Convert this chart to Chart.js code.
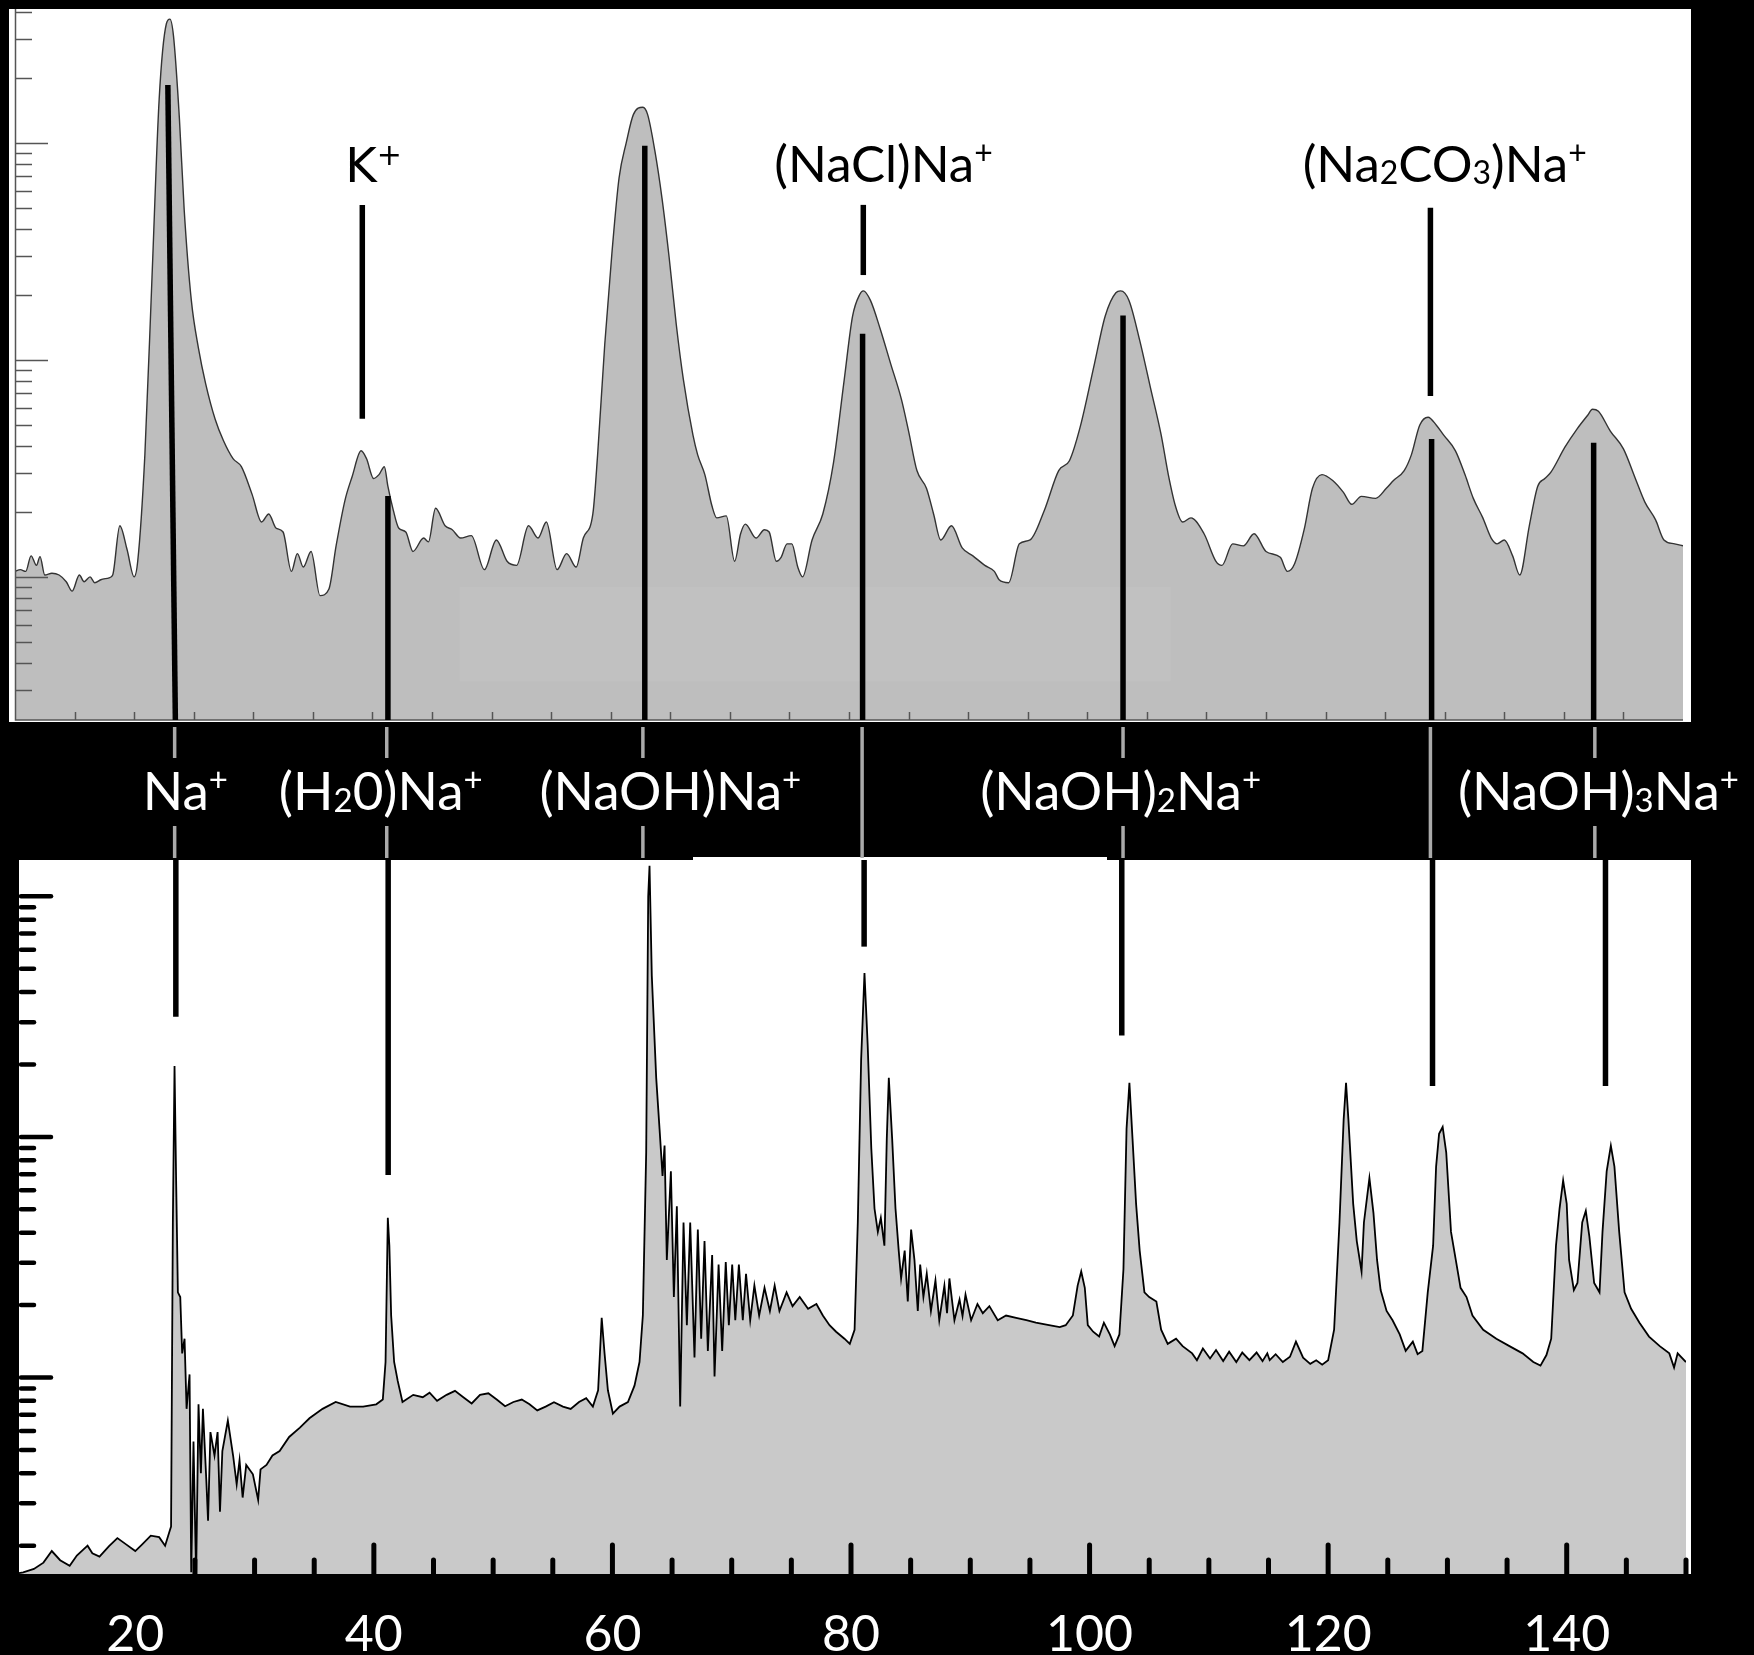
<!DOCTYPE html>
<html>
<head>
<meta charset="utf-8">
<script src="https://cdn.jsdelivr.net/npm/chart.js@4.4.0/dist/chart.umd.min.js"></script>
<style>
  html, body { margin: 0; padding: 0; background: #000; }
  #wrap { position: relative; width: 1754px; height: 1655px; background: #000; overflow: hidden; }
  canvas { position: absolute; left: 0; }
  #top { top: 0; width: 1754px; height: 860px; }
  #bot { top: 860px; width: 1754px; height: 795px; }
</style>
</head>
<body>
<div id="wrap">
  <canvas id="top" width="1754" height="860"></canvas>
  <canvas id="bot" width="1754" height="795"></canvas>
</div>
<script>
// upper spectrum (smoothed), m/z and intensity
const topMz = [
  10.0, 10.45, 10.9, 11.35, 11.8, 12.1, 12.5, 13.1, 13.7, 14.3,
  14.8, 15.4, 15.8, 16.3, 16.7, 17.2, 17.9, 18.2, 18.8, 19.4,
  20.0, 20.3, 20.9, 21.5, 22.1, 22.7, 23.0, 23.3, 23.8, 24.2,
  24.8, 25.4, 26.0, 26.8, 27.5, 28.3, 29.0, 29.9, 30.7, 31.3,
  31.9, 32.5, 33.2, 33.7, 34.2, 34.85, 35.6, 36.35, 36.95, 37.7,
  38.3, 39.05, 39.5, 40.1, 40.55, 41.0, 41.3, 41.75, 42.2, 42.8,
  43.4, 44.3, 44.7, 45.3, 46.1, 46.7, 47.4, 48.3, 49.4, 50.4,
  51.3, 52.1, 53.1, 53.9, 54.6, 55.5, 56.3, 57.1, 57.7, 58.5,
  58.9, 59.5, 60.1, 60.7, 61.3, 61.9, 62.7, 63.1, 63.7, 64.3,
  64.9, 65.5, 66.1, 66.9, 67.3, 67.9, 68.5, 68.9, 69.7, 70.4,
  70.9, 71.3, 72.2, 72.9, 73.3, 73.9, 74.3, 74.8, 75.2, 75.7,
  76.1, 76.9, 77.8, 78.7, 79.6, 80.3, 80.9, 81.2, 81.8, 82.6,
  83.5, 84.4, 85.0, 85.7, 86.5, 87.1, 87.7, 88.6, 89.5, 90.4,
  91.4, 92.2, 92.6, 93.4, 94.3, 95.2, 96.4, 97.6, 98.5, 99.4,
  100.6, 101.5, 102.4, 102.8, 103.5, 104.4, 105.3, 106.2, 106.8, 107.4,
  108.0, 108.7, 109.8, 110.8, 111.3, 112.2, 113.1, 114.0, 115.0, 116.2,
  116.8, 117.4, 118.2, 118.9, 119.7, 120.6, 121.5, 122.2, 123.0, 124.2,
  125.1, 125.7, 126.6, 127.2, 127.9, 128.6, 129.3, 129.9, 130.9, 131.7,
  132.4, 133.2, 133.9, 134.4, 135.0, 135.7, 136.3, 137.1, 137.8, 138.4,
  138.9, 140.1, 141.1, 142.0, 142.4, 142.9, 143.9, 145.0, 146.0, 146.8,
  147.7, 148.4, 149.3, 150.0
];
const topInt = [
  1.06, 1.08, 1.06, 1.25, 1.13, 1.24, 1.02, 1.04, 1.02, 0.95,
  0.86, 1.02, 0.95, 1.0, 0.94, 0.97, 0.99, 1.02, 1.72, 1.34,
  1.0, 1.18, 3.65, 24.1, 159, 353, 372, 312, 129, 49.2,
  18.8, 11.3, 7.78, 5.33, 4.24, 3.51, 3.22, 2.40, 1.79, 1.95,
  1.68, 1.61, 1.06, 1.28, 1.11, 1.31, 0.82, 0.88, 1.39, 2.26,
  2.90, 3.81, 3.51, 2.84, 2.96, 3.22, 2.61, 2.03, 1.68, 1.61,
  1.31, 1.51, 1.45, 2.07, 1.72, 1.65, 1.51, 1.55, 1.08, 1.48,
  1.18, 1.13, 1.72, 1.51, 1.79, 1.08, 1.28, 1.11, 1.51, 1.95,
  3.65, 11.8, 31.0, 68.9, 100, 135, 146, 135, 92.3, 55.8,
  29.8, 14.6, 8.11, 4.51, 3.65, 2.96, 2.12, 1.87, 1.91, 1.18,
  1.58, 1.75, 1.51, 1.65, 1.61, 1.18, 1.23, 1.42, 1.42, 1.11,
  1.0, 1.48, 1.95, 3.36, 8.11, 15.9, 20.0, 20.8, 18.8, 14.0,
  9.59, 6.58, 4.70, 3.09, 2.56, 1.95, 1.48, 1.72, 1.36, 1.25,
  1.13, 1.06, 0.97, 0.94, 1.42, 1.48, 2.03, 3.09, 3.43, 4.90,
  9.59, 15.9, 20.4, 20.8, 18.8, 12.3, 7.45, 4.51, 2.96, 2.12,
  1.79, 1.87, 1.58, 1.18, 1.13, 1.42, 1.39, 1.58, 1.31, 1.23,
  1.06, 1.15, 1.65, 2.56, 2.96, 2.78, 2.45, 2.16, 2.35, 2.30,
  2.56, 2.78, 3.09, 3.65, 5.00, 5.44, 5.00, 4.51, 3.81, 2.96,
  2.30, 1.87, 1.51, 1.42, 1.48, 1.25, 1.02, 1.72, 2.61, 2.84,
  3.03, 3.97, 4.80, 5.56, 5.92, 5.80, 4.70, 3.89, 2.84, 2.21,
  1.83, 1.48, 1.42, 1.39
];

// lower spectrum (high resolution)
const botMz = [
  10.0, 10.6, 11.5, 12.3, 13.0, 13.7, 14.5, 15.1, 16.0, 16.4,
  17.0, 17.8, 18.5, 19.2, 20.0, 20.6, 21.3, 22.0, 22.5, 22.9,
  23.0, 23.15, 23.29, 23.43, 23.57, 23.77, 23.93, 24.13, 24.3, 24.55,
  24.69, 24.88, 25.1, 25.3, 25.5, 25.67, 25.95, 26.1, 26.3, 26.64,
  26.9, 27.1, 27.3, 27.76, 28.2, 28.5, 28.74, 29.0, 29.3, 29.86,
  30.3, 30.5, 31.0, 31.5, 32.1, 32.9, 33.8, 34.6, 35.7, 36.8,
  38.0, 39.1, 40.2, 40.75, 40.98, 41.17, 41.3, 41.45, 41.7, 42.0,
  42.4, 43.3, 44.1, 44.67, 45.3, 46.1, 46.8, 47.5, 48.2, 48.9,
  49.6, 50.3, 51.0, 51.7, 52.4, 53.05, 53.7, 54.4, 55.1, 55.85,
  56.5, 57.2, 57.8, 58.36, 58.8, 59.1, 59.34, 59.62, 60.04, 60.6,
  61.3, 61.85, 62.27, 62.55, 62.83, 63.0, 63.11, 63.3, 63.67, 63.95,
  64.2, 64.37, 64.56, 64.9, 65.15, 65.4, 65.68, 65.96, 66.24, 66.52,
  66.88, 67.16, 67.44, 67.72, 68.0, 68.36, 68.56, 68.9, 69.2, 69.5,
  69.76, 70.04, 70.3, 70.6, 70.93, 71.2, 71.55, 71.9, 72.3, 72.75,
  73.2, 73.6, 74.0, 74.6, 75.1, 75.7, 76.4, 77.1, 77.64, 78.2,
  78.75, 79.45, 79.9, 80.3, 80.57, 80.85, 81.13, 81.4, 81.7, 81.97,
  82.25, 82.5, 82.8, 83.0, 83.17, 83.45, 83.73, 84.0, 84.2, 84.5,
  84.76, 85.04, 85.32, 85.6, 85.8, 86.07, 86.35, 86.7, 87.08, 87.4,
  87.83, 88.05, 88.25, 88.67, 89.1, 89.35, 89.6, 90.07, 90.6, 91.05,
  91.6, 92.3, 93.0, 93.84, 94.7, 95.5, 96.6, 97.5, 98.0, 98.6,
  99.0, 99.3, 99.6, 99.85, 100.3, 100.8, 101.2, 101.7, 102.1, 102.5,
  102.84, 103.1, 103.34, 103.6, 103.9, 104.2, 104.6, 105.0, 105.6, 106.0,
  106.55, 107.25, 107.8, 108.6, 109.0, 109.5, 110.1, 110.6, 111.2, 111.7,
  112.3, 112.8, 113.4, 114.0, 114.5, 114.9, 115.1, 115.6, 116.2, 116.8,
  117.3, 117.9, 118.5, 119.0, 119.5, 120.0, 120.5, 120.95, 121.3, 121.5,
  121.7, 122.1, 122.4, 122.8, 123.0, 123.46, 123.8, 124.1, 124.4, 124.9,
  125.4, 126.0, 126.5, 127.1, 127.5, 127.9, 128.35, 128.8, 129.05, 129.3,
  129.6, 129.9, 130.3, 130.7, 131.1, 131.6, 132.1, 133.0, 134.1, 135.2,
  136.3, 137.2, 137.8, 138.3, 138.7, 139.1, 139.4, 139.7, 140.0, 140.2,
  140.6, 140.9, 141.3, 141.6, 141.9, 142.3, 142.75, 143.0, 143.35, 143.7,
  144.0, 144.4, 144.85, 145.4, 146.1, 146.9, 147.8, 148.6, 149.0, 149.3,
  150.0
];
const botInt = [
  0.153, 0.155, 0.16, 0.170, 0.19, 0.174, 0.165, 0.182, 0.20, 0.186,
  0.18, 0.199, 0.215, 0.203, 0.19, 0.203, 0.22, 0.217, 0.20, 0.232,
  0.24, 4.41, 19.7, 6.30, 2.26, 2.16, 1.26, 1.45, 0.741, 1.03,
  0.155, 0.542, 0.149, 0.774, 0.40, 0.741, 0.379, 0.254, 0.593, 0.474,
  0.593, 0.277, 0.495, 0.662, 0.474, 0.36, 0.453, 0.317, 0.433, 0.396,
  0.31, 0.415, 0.433, 0.474, 0.495, 0.566, 0.619, 0.677, 0.741, 0.791,
  0.757, 0.757, 0.774, 0.810, 1.16, 4.61, 3.53, 1.81, 1.16, 0.968,
  0.791, 0.847, 0.828, 0.865, 0.80, 0.847, 0.88, 0.828, 0.78, 0.847,
  0.86, 0.810, 0.76, 0.791, 0.81, 0.774, 0.73, 0.757, 0.79, 0.757,
  0.74, 0.791, 0.82, 0.757, 0.885, 1.77, 1.26, 0.885, 0.708, 0.757,
  0.791, 0.925, 1.16, 1.81, 8.61, 100, 134, 46.9, 17.6, 10.8,
  6.89, 9.20, 3.08, 7.20, 2.16, 5.15, 0.757, 4.41, 1.65, 4.41,
  1.21, 4.12, 1.45, 3.69, 1.29, 3.23, 1.01, 2.95, 1.29, 3.02,
  1.65, 2.95, 1.73, 2.95, 1.73, 2.70, 1.73, 2.41, 1.81, 2.36,
  1.89, 2.41, 1.89, 2.26, 1.98, 2.16, 1.93, 2.02, 1.81, 1.65,
  1.55, 1.45, 1.38, 1.58, 4.41, 21.0, 48.0, 24.0, 9.0, 5.04,
  4.03, 4.61, 3.53, 9.84, 17.6, 9.84, 5.04, 3.37, 2.58, 3.37,
  2.07, 4.12, 3.08, 1.89, 2.95, 2.16, 2.70, 1.89, 2.53, 1.73,
  2.41, 1.85, 2.58, 1.73, 2.11, 1.8, 2.21, 1.73, 2.02, 1.85,
  1.98, 1.73, 1.81, 1.77, 1.73, 1.69, 1.65, 1.62, 1.65, 1.81,
  2.41, 2.76, 2.36, 1.65, 1.55, 1.48, 1.69, 1.51, 1.35, 1.51,
  2.82, 10.8, 16.8, 9.84, 5.27, 3.37, 2.26, 2.16, 2.07, 1.58,
  1.38, 1.45, 1.35, 1.26, 1.18, 1.32, 1.2, 1.3, 1.17, 1.28,
  1.16, 1.27, 1.18, 1.27, 1.17, 1.26, 1.18, 1.25, 1.16, 1.22,
  1.41, 1.21, 1.14, 1.18, 1.13, 1.18, 1.58, 4.41, 11.8, 16.8,
  11.8, 5.27, 3.69, 2.76, 4.41, 6.74, 4.82, 3.08, 2.31, 1.89,
  1.73, 1.51, 1.29, 1.41, 1.25, 1.29, 2.26, 3.53, 7.53, 10.3,
  11.0, 8.61, 4.03, 3.08, 2.36, 2.16, 1.81, 1.58, 1.45, 1.35,
  1.26, 1.16, 1.12, 1.24, 1.45, 3.53, 5.04, 6.59, 5.27, 3.08,
  2.31, 2.47, 4.41, 4.93, 3.85, 2.47, 2.26, 4.03, 7.20, 9.20,
  7.53, 4.03, 2.26, 1.93, 1.69, 1.48, 1.35, 1.26, 1.10, 1.26,
  1.16
];

const xTickLabels = ['20', '40', '60', '80', '100', '120', '140'];

// peak annotations, by m/z
const topLabels = [
  { text: 'K^+', mz: 40.1, font: 'DejaVu Sans', size: 48 },
  { text: '(NaCl)Na^+', mz: 82.9 },
  { text: '(Na_2CO_3)Na^+', mz: 130.0 }
];
const topMarks = [
  { mz: 39.15, hi: 51.8, lo: 5.35 },
  { mz: 81.2, hi: 51.8, lo: 24.6 },
  { mz: 128.8, hi: 50.2, lo: 6.82 }
];
const topStems = [
  { mz: 22.83, base: 23.46, top: 185 },
  { mz: 41.3, top: 2.36 },
  { mz: 62.86, top: 96.9 },
  { mz: 81.14, top: 13.2 },
  { mz: 103.0, top: 16.0 },
  { mz: 128.9, top: 4.32 },
  { mz: 142.5, top: 4.15 }
];
const midLabels = [
  { text: 'Na^+', mz: 24.3 },
  { text: '(H_20)Na^+', mz: 40.7 },
  { text: '(NaOH)Na^+', mz: 65.0 },
  { text: '(NaOH)_2Na^+', mz: 102.8 },
  { text: '(NaOH)_3Na^+', mz: 142.9 }
];
const midLinks = [
  { mz: 23.4, split: true }, { mz: 41.2, split: true }, { mz: 62.7, split: true },
  { mz: 81.1, split: false }, { mz: 103.0, split: true }, { mz: 128.8, split: false },
  { mz: 142.6, split: true }
];
const botStems = [
  { mz: 23.4, to: 31.6 }, { mz: 41.2, to: 6.95 }, { mz: 81.1, to: 61.8 },
  { mz: 102.7, to: 26.4 }, { mz: 128.75, to: 16.3 }, { mz: 143.25, to: 16.3 }
];

const pts = (xs, ys) => xs.map((x, i) => ({ x: x, y: ys[i] }));

function logTicks(scale) {
  const out = [];
  for (let k = -2; k <= 3; k++) {
    for (let j = 1; j <= 9; j++) {
      const v = j * Math.pow(10, k);
      if (v >= scale.min && v <= scale.max) out.push({ v: v, major: j === 1 });
    }
  }
  return out;
}

// text with _x subscripts and ^x superscripts
function drawRich(c, str, cx, base, size, family, color) {
  const parts = [];
  let i = 0;
  while (i < str.length) {
    const ch = str[i];
    if (ch === '_' || ch === '^') { parts.push({ t: str[i + 1], k: ch }); i += 2; }
    else {
      let j = i;
      while (j < str.length && str[j] !== '_' && str[j] !== '^') j++;
      parts.push({ t: str.slice(i, j), k: '' });
      i = j;
    }
  }
  const fontFor = k => (k === '' ? size : Math.round(size * 0.62)) + 'px "' + family + '"';
  c.save();
  c.fillStyle = color;
  c.textAlign = 'left';
  c.textBaseline = 'alphabetic';
  let w = 0;
  parts.forEach(p => { c.font = fontFor(p.k); p.w = c.measureText(p.t).width; w += p.w; });
  let x = cx - w / 2;
  parts.forEach(p => {
    c.font = fontFor(p.k);
    const dy = p.k === '_' ? size * 0.04 : (p.k === '^' ? -size * 0.36 : 0);
    c.fillText(p.t, x, base + dy);
    x += p.w;
  });
  c.restore();
}

function seg(c, x1, y1, x2, y2) {
  c.beginPath(); c.moveTo(x1, y1); c.lineTo(x2, y2); c.stroke();
}

const topDeco = {
  id: 'topDeco',
  beforeDraw(chart) {
    const c = chart.ctx, a = chart.chartArea;
    c.save();
    c.fillStyle = '#000';
    c.fillRect(0, 0, chart.width, chart.height);
    c.fillStyle = '#fff';
    c.fillRect(a.left - 6, a.top, a.right - a.left + 14, a.bottom - a.top + 2);
    c.fillRect(693, 857, 414, 3);
    c.restore();
  },
  afterDatasetsDraw(chart) {
    const c = chart.ctx, a = chart.chartArea, x = chart.scales.x, y = chart.scales.y;
    c.save();
    // faintly lighter patch from the scanned original
    c.fillStyle = 'rgba(255,255,255,0.05)';
    const px1 = x.getPixelForValue(47.3), px2 = x.getPixelForValue(107.0);
    const py1 = y.getPixelForValue(0.90), py2 = y.getPixelForValue(0.33);
    c.fillRect(px1, py1, px2 - px1, py2 - py1);

    // axes and ticks
    c.strokeStyle = '#555';
    c.lineWidth = 1.5;
    c.beginPath();
    c.moveTo(a.left + 0.5, a.top); c.lineTo(a.left + 0.5, a.bottom); c.lineTo(a.right, a.bottom);
    c.stroke();
    logTicks(y).forEach(t => {
      const py = Math.round(y.getPixelForValue(t.v)) + 0.5;
      seg(c, a.left, py, a.left + (t.major ? 33 : 17), py);
    });
    for (let m = 15; m < 150; m += 5) {
      const px = Math.round(x.getPixelForValue(m)) + 0.5;
      seg(c, px, a.bottom, px, a.bottom - 8);
    }

    // peak stems
    c.strokeStyle = '#000';
    c.lineWidth = 5.5;
    c.lineCap = 'butt';
    topStems.forEach(s => {
      seg(c, x.getPixelForValue(s.mz), y.getPixelForValue(s.top),
        x.getPixelForValue(s.base || s.mz), a.bottom);
    });
    topMarks.forEach(s => {
      const px = x.getPixelForValue(s.mz);
      seg(c, px, y.getPixelForValue(s.hi), px, y.getPixelForValue(s.lo));
    });
    topLabels.forEach(l => {
      drawRich(c, l.text, x.getPixelForValue(l.mz), 182, l.size || 51, l.font || 'Lato', '#000');
    });

    // band between the panels
    c.strokeStyle = '#aaa';
    c.lineWidth = 3.5;
    midLinks.forEach(l => {
      const px = x.getPixelForValue(l.mz);
      if (l.split) { seg(c, px, 727, px, 758); seg(c, px, 826, px, 858); }
      else seg(c, px, 727, px, 858);
    });
    midLabels.forEach(l => {
      drawRich(c, l.text, x.getPixelForValue(l.mz), 810, 53, 'Lato', '#fff');
    });
    c.restore();
  }
};

const botDeco = {
  id: 'botDeco',
  beforeDraw(chart) {
    const c = chart.ctx, a = chart.chartArea;
    c.save();
    c.fillStyle = '#000';
    c.fillRect(0, 0, chart.width, chart.height);
    c.fillStyle = '#fff';
    c.fillRect(a.left + 3, a.top, a.right - a.left + 2, a.bottom - a.top);
    c.restore();
  },
  afterDatasetsDraw(chart) {
    const c = chart.ctx, a = chart.chartArea, x = chart.scales.x, y = chart.scales.y;
    c.save();
    c.fillStyle = '#000';
    c.fillRect(a.left - 3, a.top, 6, a.bottom - a.top);

    c.strokeStyle = '#000';
    c.lineCap = 'round';
    c.lineWidth = 4.5;
    logTicks(y).forEach(t => {
      const py = y.getPixelForValue(t.v);
      seg(c, a.left + 5, py, a.left + (t.major ? 35 : 18), py);
    });
    c.lineWidth = 5;
    for (let m = 25; m <= 150; m += 5) {
      const px = x.getPixelForValue(m);
      seg(c, px, a.bottom + 3, px, a.bottom - (m % 20 === 0 ? 29 : 14));
    }

    c.lineCap = 'butt';
    c.lineWidth = 5.5;
    botStems.forEach(s => {
      const px = x.getPixelForValue(s.mz);
      seg(c, px, a.top, px, y.getPixelForValue(s.to));
    });

    c.fillStyle = '#fff';
    c.font = '50px "Lato"';
    c.textAlign = 'center';
    c.textBaseline = 'alphabetic';
    xTickLabels.forEach(t => {
      c.fillText(t, x.getPixelForValue(Number(t)), 791);
    });
    c.restore();
  }
};

new Chart(document.getElementById('top'), {
  type: 'line',
  data: {
    datasets: [{
      data: pts(topMz, topInt),
      borderColor: '#333',
      borderWidth: 1.4,
      backgroundColor: '#bebebe',
      fill: 'start',
      pointRadius: 0,
      cubicInterpolationMode: 'monotone'
    }]
  },
  options: {
    responsive: false,
    animation: false,
    devicePixelRatio: 1,
    layout: { padding: { left: 15, right: 71, top: 9, bottom: 140 } },
    scales: {
      x: { type: 'linear', min: 10, max: 150, display: false },
      y: { type: 'logarithmic', min: 0.219, max: 414, display: false }
    },
    plugins: { legend: { display: false }, tooltip: { enabled: false } }
  },
  plugins: [topDeco]
});

new Chart(document.getElementById('bot'), {
  type: 'line',
  data: {
    datasets: [{
      data: pts(botMz, botInt),
      borderColor: '#000',
      borderWidth: 1.8,
      backgroundColor: '#c9c9c9',
      fill: 'start',
      pointRadius: 0,
      tension: 0
    }]
  },
  options: {
    responsive: false,
    animation: false,
    devicePixelRatio: 1,
    layout: { padding: { left: 16, right: 68, top: 0, bottom: 81 } },
    scales: {
      x: { type: 'linear', min: 10, max: 150, display: false },
      y: { type: 'logarithmic', min: 0.1525, max: 141.6, display: false }
    },
    plugins: { legend: { display: false }, tooltip: { enabled: false } }
  },
  plugins: [botDeco]
});
</script>
</body>
</html>
